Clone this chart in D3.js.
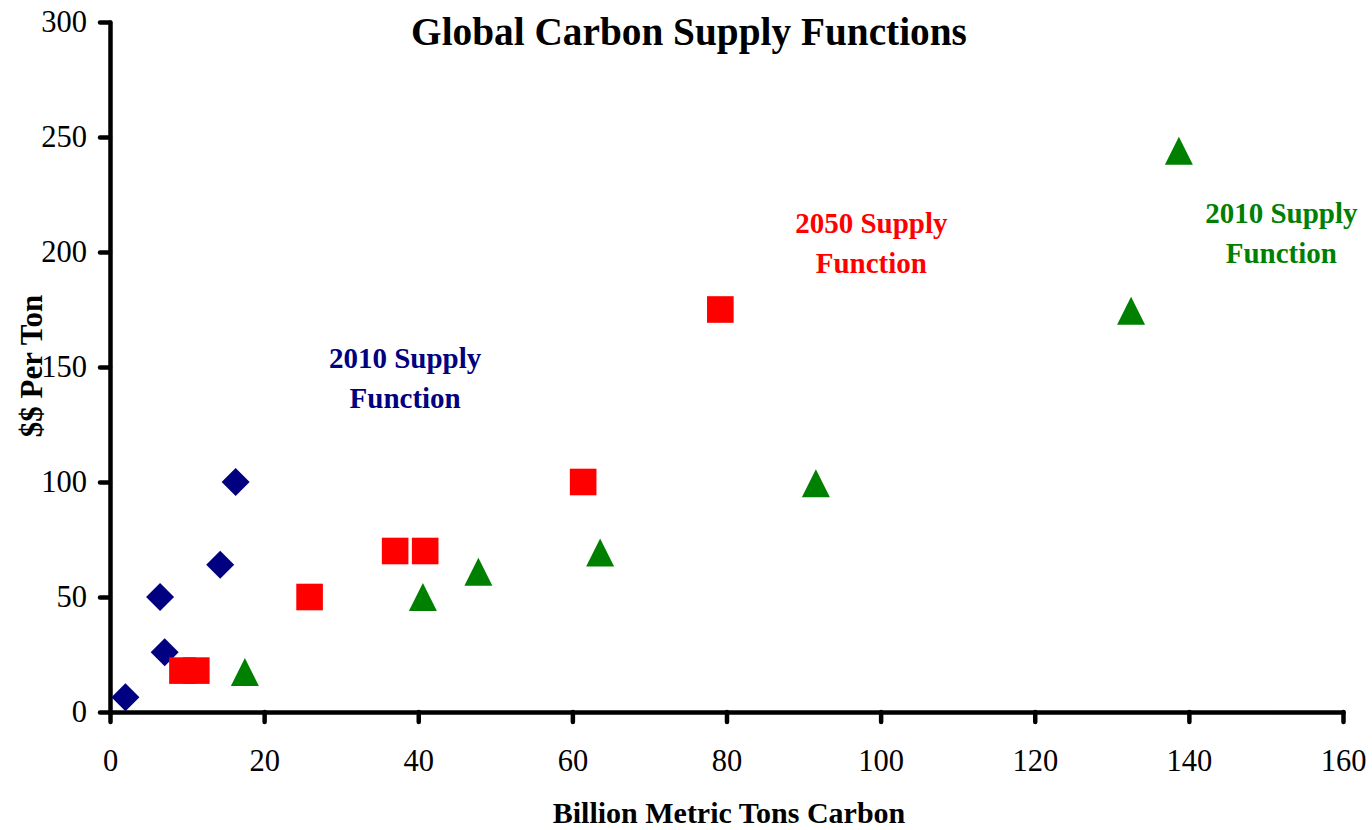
<!DOCTYPE html>
<html>
<head>
<meta charset="utf-8">
<script src="https://cdn.jsdelivr.net/npm/d3@7"></script>
<style>
  html, body { margin: 0; padding: 0; background: #fff; }
  svg { display: block; }
  text { font-family: "Liberation Serif", "Times New Roman", serif; }
</style>
</head>
<body>
<svg id="chart" width="1372" height="830"></svg>
<script>
// ---- data ----
const blueX  = [2.0, 7.1, 6.5, 14.3, 16.3];
const blueY  = [6.4, 26, 50, 64, 100];
const redX   = [9.4, 11.2, 25.9, 37.0, 40.9, 61.4, 79.2];
const redY   = [18, 18, 50, 70, 70, 100, 175];
const greenX = [17.5, 40.6, 47.8, 63.6, 91.6, 132.5, 138.7];
const greenY = [17.4, 50, 61, 69.3, 99.5, 174.5, 244];
const xTicks = [0, 20, 40, 60, 80, 100, 120, 140, 160];
const yTicks = [0, 50, 100, 150, 200, 250, 300];
const titleText = "Global Carbon Supply Functions";
const xTitle = "Billion Metric Tons Carbon";
const yTitle = "$$ Per Ton";
const labels = [
  { lines: ["2010 Supply", "Function"], x: 38.3, y: 149.6, color: "#000080" },
  { lines: ["2050 Supply", "Function"], x: 98.8, y: 208.3, color: "#FF0000" },
  { lines: ["2010 Supply", "Function"], x: 152, y: 212.6, color: "#008000" }
];

const svg = d3.select("#chart");
const x = d3.scaleLinear().domain([0, 160]).range([110, 1343]);
const y = d3.scaleLinear().domain([0, 300]).range([712, 22]);

// title
svg.append("text")
  .attr("x", 689).attr("y", 45)
  .attr("text-anchor", "middle")
  .attr("font-size", 39.3).attr("font-weight", "bold")
  .text(titleText);

// axes
const xAxis = d3.axisBottom(x).tickValues(xTicks).tickSize(10).tickSizeOuter(0).tickPadding(27).tickFormat(d3.format("d"));
const yAxis = d3.axisLeft(y).tickValues(yTicks).tickSize(10).tickSizeOuter(0).tickPadding(13).tickFormat(d3.format("d"));

const gx = svg.append("g").attr("transform", "translate(0,712)").call(xAxis);
const gy = svg.append("g").attr("transform", "translate(110,0)").call(yAxis);

[gx, gy].forEach(g => {
  g.select(".domain").attr("stroke", "#000").attr("stroke-width", 4.5).attr("stroke-linecap", "round");
  g.selectAll(".tick line").attr("stroke", "#000").attr("stroke-width", 4.5).attr("stroke-linecap", "round");
  g.selectAll(".tick text").attr("font-size", 30.5).attr("fill", "#000")
    .attr("font-family", "'Liberation Serif', 'Times New Roman', serif");
});

// axis titles
svg.append("text")
  .attr("x", 729).attr("y", 823)
  .attr("text-anchor", "middle")
  .attr("font-size", 30).attr("font-weight", "bold")
  .text(xTitle);

svg.append("text")
  .attr("transform", "translate(42,366) rotate(-90)")
  .attr("text-anchor", "middle")
  .attr("font-size", 31).attr("font-weight", "bold")
  .text(yTitle);

// markers
const half = 14;
const diamond = `M0,${-half}L${half},0L0,${half}L${-half},0Z`;
const triangle = `M0,${-half}L${half},${half}L${-half},${half}Z`;

svg.append("g").selectAll("path")
  .data(d3.zip(blueX, blueY))
  .join("path")
  .attr("d", diamond)
  .attr("transform", d => `translate(${x(d[0])},${y(d[1])})`)
  .attr("fill", "#000080");

svg.append("g").selectAll("rect")
  .data(d3.zip(redX, redY))
  .join("rect")
  .attr("x", d => x(d[0]) - 13.3).attr("y", d => y(d[1]) - 13.3)
  .attr("width", 26.6).attr("height", 26.6)
  .attr("fill", "#FF0000");

svg.append("g").selectAll("path")
  .data(d3.zip(greenX, greenY))
  .join("path")
  .attr("d", triangle)
  .attr("transform", d => `translate(${x(d[0])},${y(d[1])})`)
  .attr("fill", "#008000");

// annotations
labels.forEach(l => {
  const t = svg.append("text")
    .attr("text-anchor", "middle")
    .attr("font-size", 29).attr("font-weight", "bold")
    .attr("fill", l.color);
  l.lines.forEach((s, i) => {
    t.append("tspan").attr("x", x(l.x)).attr("y", y(l.y) + i * 40).text(s);
  });
});
</script>
</body>
</html>
